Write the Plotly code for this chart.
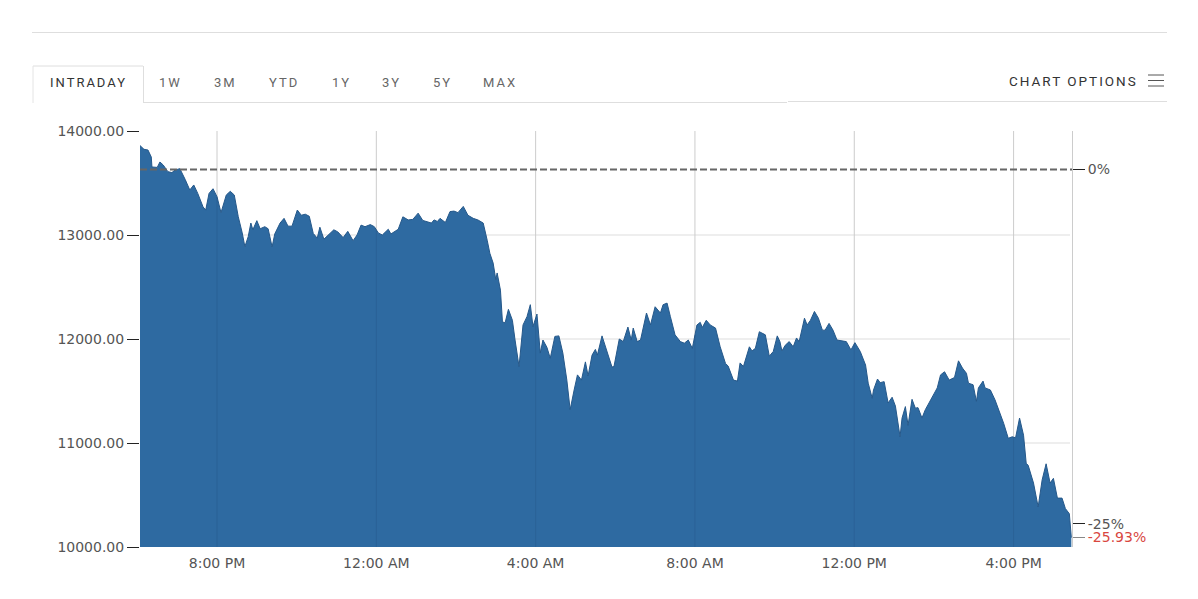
import numpy as np
import pandas as pd
import plotly.graph_objects as go

# minutes after the chart's first print, and the index level
minutes = [0, 6, 12, 17, 18, 26, 30, 35, 42, 48, 53, 60, 68, 75, 81, 87, 95, 99, 104, 110,
           116, 122, 130, 136, 142, 148, 154, 158, 163, 167, 170, 176, 181, 188, 193, 199, 203, 211, 217, 223,
           229, 237, 243, 249, 255, 261, 267, 271, 277, 286, 292, 298, 306, 313, 321, 327, 333, 339, 347, 353,
           359, 365, 374, 378, 389, 396, 404, 411, 419, 426, 439, 443, 448, 452, 460, 467, 473, 479, 487, 494,
           502, 509, 517, 523, 527, 532, 536, 538, 543, 546, 550, 555, 561, 565, 571, 577, 583, 588, 592, 598,
           603, 607, 613, 618, 625, 631, 637, 643, 648, 654, 659, 665, 671, 675, 681, 686, 689, 696, 702, 711,
           714, 722, 728, 735, 740, 743, 749, 754, 763, 769, 776, 784, 788, 794, 799, 806, 814, 820, 826, 832,
           839, 844, 847, 853, 859, 867, 874, 882, 886, 894, 900, 904, 909, 918, 922, 927, 933, 942, 948, 954,
           960, 964, 967, 972, 978, 984, 989, 993, 1001, 1005, 1010, 1016, 1022, 1028, 1032, 1038, 1044, 1050, 1064, 1071,
           1077, 1082, 1085, 1093, 1097, 1103, 1105, 1111, 1115, 1121, 1127, 1133, 1138, 1145, 1148, 1153, 1157, 1163, 1168, 1172,
           1178, 1183, 1191, 1201, 1206, 1212, 1219, 1227, 1233, 1239, 1245, 1248, 1255, 1260, 1263, 1270, 1273, 1281, 1288, 1295,
           1301, 1308, 1314, 1319, 1325, 1331, 1335, 1338, 1346, 1353, 1359, 1365, 1371, 1376, 1382, 1389, 1394, 1400, 1403]
prices = [13860, 13824, 13817, 13750, 13654, 13650, 13702, 13673, 13609, 13600, 13625, 13638, 13535, 13433, 13481, 13400, 13270, 13240, 13400, 13445,
          13368, 13215, 13385, 13420, 13385, 13176, 13020, 12888, 12984, 13115, 13050, 13138, 13060, 13080, 13060, 12885, 13010, 13115, 13160, 13085,
          13085, 13240, 13190, 13200, 13180, 13015, 12970, 13075, 12960, 13010, 13050, 13030, 12975, 13035, 12945, 13000, 13095, 13080, 13100, 13080,
          13020, 13000, 13055, 13010, 13055, 13175, 13145, 13150, 13210, 13140, 13115, 13145, 13130, 13160, 13120, 13225, 13230, 13215, 13275, 13190,
          13160, 13145, 13115, 12950, 12825, 12730, 12570, 12635, 12470, 12165, 12155, 12285, 12180, 11990, 11735, 12135, 12215, 12330, 12120, 12240,
          11865, 11990, 11920, 11815, 12025, 12030, 11865, 11605, 11320, 11510, 11655, 11605, 11780, 11645, 11845, 11900, 11845, 12030, 11910, 11730,
          11735, 12000, 11975, 12115, 11990, 12105, 11975, 11990, 12250, 12135, 12310, 12250, 12330, 12345, 12215, 12040, 11975, 11960, 11990, 11910,
          12135, 12160, 12110, 12180, 12135, 12105, 11925, 11765, 11740, 11605, 11595, 11770, 11735, 11925, 11885, 11910, 12070, 12040, 11835, 11880,
          12030, 11975, 11885, 11940, 11975, 11925, 12010, 11975, 12200, 12135, 12180, 12265, 12200, 12085, 12085, 12150, 12085, 11990, 11975, 11895,
          11965, 11910, 11880, 11750, 11575, 11430, 11510, 11615, 11580, 11590, 11385, 11440, 11355, 11060, 11240, 11350, 11170, 11420, 11335, 11340,
          11240, 11320, 11415, 11530, 11655, 11685, 11605, 11630, 11790, 11720, 11670, 11575, 11560, 11400, 11530, 11595, 11530, 11510, 11415, 11300,
          11190, 11045, 11060, 11050, 11240, 11075, 10805, 10785, 10615, 10385, 10645, 10800, 10615, 10660, 10470, 10470, 10370, 10320, 10090]

prev_close = 13630
y_ticks = [10000, 11000, 12000, 13000, 14000]
grid_levels = [11000, 12000, 13000]
pct_ticks = [0, -25]
pct_labels = ["0%", "-25%"]
last_pct = [-25.93]
last_label = ["-25.93%"]
tabs = ["INTRADAY", "1W", "3M", "YTD", "1Y", "3Y", "5Y", "MAX"]
tab_centers = [88, 170, 225, 284, 341, 391, 442, 500]

start = pd.Timestamp("2020-03-11 18:04")
end = start + pd.Timedelta(minutes=1404)
times = [start + pd.Timedelta(minutes=m) for m in minutes]
hour_ticks = pd.date_range("2020-03-11 20:00", periods=6, freq="4h")

# plot area in page pixels
L, R, T, B = 140, 1072, 131, 547
W, H = 1198, 599


def px(x):
    return (x - L) / (R - L)


def py(y):
    return (B - y) / (B - T)


def rule(x0, y0, x1, y1, color="#dedede", width=1):
    fig.add_shape(type="line", xref="paper", yref="paper", x0=px(x0), x1=px(x1), y0=py(y0), y1=py(y1),
                  line=dict(color=color, width=width))


fig = go.Figure()
fig.add_trace(go.Scatter(x=times, y=prices, mode="lines", fill="tozeroy",
                         fillcolor="#2e6aa1", line=dict(color="#25588a", width=1), showlegend=False))

for level in grid_levels:
    fig.add_shape(type="line", xref="paper", yref="y", x0=0, x1=px(1070), y0=level, y1=level,
                  line=dict(color="#dddddd", width=1), layer="below")
for t in hour_ticks:
    fig.add_shape(type="line", xref="x", yref="paper", x0=t, x1=t, y0=0, y1=1,
                  line=dict(color="#cccccc", width=1), layer="below")
    # the gridline shows faintly through the area
    top = np.interp((t - start).total_seconds() / 60, minutes, prices)
    fig.add_shape(type="line", xref="x", yref="y", x0=t, x1=t, y0=10000, y1=top,
                  line=dict(color="rgba(20,50,90,0.14)", width=1))

# previous close
fig.add_shape(type="line", xref="paper", yref="y", x0=0, x1=1, y0=prev_close, y1=prev_close,
              line=dict(color="#666666", width=2, dash="7px,3px"))

# page furniture above the chart
rule(32, 32.5, 1167, 32.5)
rule(33, 66, 143, 66)
rule(33, 66, 33, 103, color="#e4e4e4")
rule(143.5, 66, 143.5, 103)
rule(143, 102.5, 787, 102.5)
rule(788, 101.5, 1167, 101.5)
for y in [75, 80.5, 86]:
    rule(1148, y, 1164, y, color="#555555")

for i, (tab, cx) in enumerate(zip(tabs, tab_centers)):
    fig.add_annotation(xref="paper", yref="paper", x=px(cx), y=py(82), xanchor="center", yanchor="middle",
                       showarrow=False, text=f'<span style="letter-spacing:2px">{tab}</span>',
                       font=dict(family="Roboto", size=13, color="#333333" if i == 0 else "#666666"))
fig.add_annotation(xref="paper", yref="paper", x=px(1139.5), y=py(81), xanchor="right", yanchor="middle",
                   showarrow=False, text='<span style="letter-spacing:2px">CHART OPTIONS</span>',
                   font=dict(family="Roboto", size=13.5, color="#333333"))

tick_font = dict(family="DejaVu Sans", size=14, color="#555555")
fig.update_layout(
    width=W, height=H, autosize=False,
    margin=dict(l=L, r=W - R, t=T, b=H - B),
    paper_bgcolor="white", plot_bgcolor="white",
    xaxis=dict(type="date", range=[start, end], tick0="2020-03-11 20:00", dtick=4 * 3600 * 1000,
               tickformat="%-I:%M %p", showgrid=False, ticks="outside", ticklen=3, tickcolor="white",
               tickfont=tick_font, zeroline=False),
    yaxis=dict(range=[10000, 14000], tickvals=y_ticks, tickformat=".2f", showgrid=False, zeroline=False,
               ticks="outside", ticklen=12, tickcolor="#222222", tickfont=tick_font),
    yaxis2=dict(overlaying="y", side="right", anchor="x",
                range=[(10000 / prev_close - 1) * 100, (14000 / prev_close - 1) * 100],
                tickvals=pct_ticks, ticktext=pct_labels, ticks="outside", ticklen=12, tickcolor="#222222",
                showgrid=False, zeroline=False, showline=True, linecolor="#cccccc", tickfont=tick_font),
    yaxis3=dict(overlaying="y", side="right", anchor="x",
                range=[(10000 / prev_close - 1) * 100, (14000 / prev_close - 1) * 100],
                tickvals=last_pct, ticktext=last_label, ticks="outside", ticklen=12, tickcolor="#888888",
                showgrid=False, zeroline=False,
                tickfont=dict(family="DejaVu Sans", size=14, color="#d9473f")),
)
# dummy traces so the percent axes get drawn
fig.add_trace(go.Scatter(x=[start], y=[0], yaxis="y2", mode="markers", marker=dict(opacity=0), showlegend=False))
fig.add_trace(go.Scatter(x=[start], y=[0], yaxis="y3", mode="markers", marker=dict(opacity=0), showlegend=False))

fig.write_html("out.html", config={"displayModeBar": False}, post_script="document.body.style.margin='0';")
